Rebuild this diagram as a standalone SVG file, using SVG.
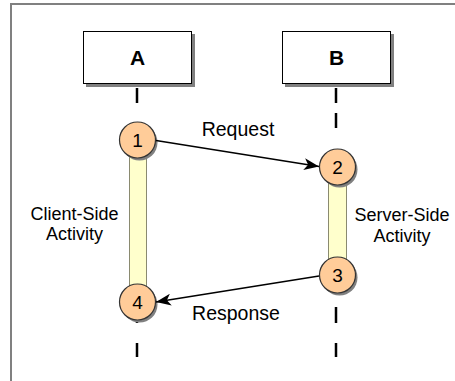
<svg xmlns="http://www.w3.org/2000/svg" width="455" height="381" viewBox="0 0 455 381">
<defs>
<style>
.lbl{font-family:"Liberation Sans",Arial,sans-serif;fill:#000;}
.life{stroke:#000;stroke-width:2.5;fill:none;}
.box{fill:#fff;stroke:#000;stroke-width:1;}
.shadow{fill:#808080;stroke:none;}
.bar{fill:#FFFFCC;stroke:#8a8a70;stroke-width:1;}
.circ{fill:#FFCC99;stroke:#333;stroke-width:1.2;}
.arrow{stroke:#000;stroke-width:1.5;fill:none;marker-end:url(#ah);}
</style>
<marker id="ah" markerUnits="userSpaceOnUse" markerWidth="16" markerHeight="12" refX="15" refY="6" orient="auto">
<path d="M0,0 L15,6 L0,12 L4,6 z" fill="#000"/>
</marker>
</defs>
<rect width="455" height="381" fill="#fff"/>
<path d="M11,381 L11,4 L455,4" fill="none" stroke="#808080" stroke-width="2"/>

<g id="lifelines">
<line class="life" x1="137" y1="88" x2="137" y2="103"/>
<line class="life" x1="137" y1="307" x2="137" y2="323"/>
<line class="life" x1="137" y1="343" x2="137" y2="357"/>
<line class="life" x1="336" y1="88" x2="336" y2="103"/>
<line class="life" x1="336" y1="113" x2="336" y2="128"/>
<line class="life" x1="336" y1="307" x2="336" y2="323"/>
<line class="life" x1="336" y1="343" x2="336" y2="357"/>
</g>

<g id="nodeA">
<rect class="shadow" x="86" y="34" width="109" height="53"/>
<rect class="box" x="83.5" y="31.5" width="108" height="52"/>
<text class="lbl" x="137.5" y="65" font-size="21" font-weight="bold" text-anchor="middle">A</text>
</g>
<g id="nodeB">
<rect class="shadow" x="285" y="34" width="109" height="53"/>
<rect class="box" x="282.5" y="31.5" width="108" height="52"/>
<text class="lbl" x="336.5" y="65" font-size="21" font-weight="bold" text-anchor="middle">B</text>
</g>

<g id="barA">
<rect class="bar" x="129.5" y="150" width="17" height="140"/>
</g>
<g id="barB">
<rect class="bar" x="328.5" y="178" width="18" height="85"/>
</g>

<g id="n1">
<circle class="shadow" cx="139.5" cy="142.5" r="18"/>
<circle class="circ" cx="137.5" cy="140" r="18"/>
<text class="lbl" x="137.5" y="147" font-size="19" text-anchor="middle">1</text>
</g>
<g id="n2">
<circle class="shadow" cx="339.5" cy="169.5" r="18"/>
<circle class="circ" cx="337.5" cy="167" r="18"/>
<text class="lbl" x="337.5" y="174" font-size="19" text-anchor="middle">2</text>
</g>
<g id="n3">
<circle class="shadow" cx="339.5" cy="277.5" r="18"/>
<circle class="circ" cx="337.5" cy="275" r="18"/>
<text class="lbl" x="337.5" y="282" font-size="19" text-anchor="middle">3</text>
</g>
<g id="n4">
<circle class="shadow" cx="139.5" cy="304.5" r="18"/>
<circle class="circ" cx="137.5" cy="302" r="18"/>
<text class="lbl" x="137.5" y="309" font-size="19" text-anchor="middle">4</text>
</g>

<g id="connectors">
<line class="arrow" x1="156" y1="140.5" x2="319" y2="166.5"/>
<line class="arrow" x1="319" y1="276" x2="156" y2="302"/>
</g>

<g id="labels">
<text class="lbl" x="238" y="136" font-size="19.5" text-anchor="middle">Request</text>
<text class="lbl" x="236" y="320" font-size="19.5" text-anchor="middle">Response</text>
<text class="lbl" x="74.5" y="219.5" font-size="18" text-anchor="middle">Client-Side</text>
<text class="lbl" x="74.5" y="240" font-size="18" text-anchor="middle">Activity</text>
<text class="lbl" x="402" y="221" font-size="18" text-anchor="middle">Server-Side</text>
<text class="lbl" x="402" y="241.5" font-size="18" text-anchor="middle">Activity</text>
</g>
</svg>
